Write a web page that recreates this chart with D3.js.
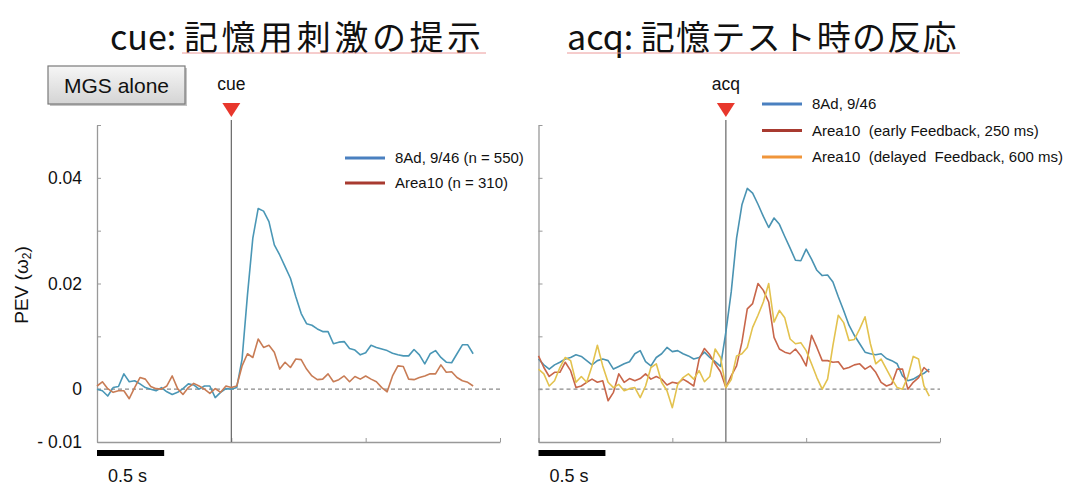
<!DOCTYPE html>
<html>
<head>
<meta charset="utf-8">
<script src="https://cdn.jsdelivr.net/npm/d3@7"></script>
<style>
  body { margin: 0; background: #fff; }
  svg { display: block; }
  text { font-family: "Liberation Sans", Arial, sans-serif; }
</style>
</head>
<body>
<div id="chart"></div>
<script>
// PEV values in units of 1e-3, sampled every 0.04 s from the left end of each panel
const STEP = 0.04;

const cueBlue = [0, -0.3, -1.3, 0.3, 0.5, 2.9, 1.4, 1.6, 1.0, 0.3, 0, -0.3, 0.3, -0.5, -1.0, -0.6, 0.1, 1.0, 0.8, 0,
  0.6, 0.6, -1.6, -0.6, 0.1, 0, 0.3, 5.7, 17.8, 28.6, 34.2, 33.7, 31.7, 27.3, 25.4, 23.2, 21.0,
  17.5, 14.3, 12.4, 12.1, 11.4, 10.9, 10.9, 8.6, 8.9, 9.0, 7.7, 7.4, 6.5, 6.9, 8.3, 7.9, 7.6, 7.3, 6.8, 6.5,
  6.3, 6.3, 7.5, 6.5, 4.8, 6.7, 7.3, 6.0, 5.1, 5.0, 6.7, 8.4, 8.4, 6.7];
const cueRed = [0.6, 1.4, 0.1, -0.6, -0.3, -0.3, -1.8, 0.3, 2.2, 1.9, 0.5, 0.1, 0, 0.6, 2.5, 0.1, -1.0, 0.3, 1.1, 0.6,
  0, -0.8, 0.1, -0.6, 0.6, 0.3, 0.6, 4.4, 6.7, 6.0, 9.5, 7.9, 8.3, 7.0, 3.8, 5.1, 4.1,
  5.7, 5.6, 3.8, 2.5, 1.8, 1.9, 2.9, 1.4, 1.8, 2.5, 1.4, 2.4, 1.9, 2.5, 1.9, 1.4, 0.3, -0.5, 2.5, 4.4,
  4.3, 1.9, 1.8, 2.2, 2.5, 2.9, 2.9, 4.6, 3.2, 3.3, 2.2, 1.6, 1.3, 0.6];

const acqBlue = [5.7, 4.6, 3.8, 4.6, 5.1, 5.7, 6.0, 6.5, 6.2, 5.4, 4.6, 5.4, 5.7, 5.4, 3.8, 4.3, 4.8, 5.2, 6.7, 7.3,
  5.2, 4.4, 6.0, 6.7, 7.9, 7.1, 7.3, 6.7, 6.3, 5.7, 6.0, 7.0, 6.0, 5.2, 4.3, 10.8, 18.4,
  28.6, 34.9, 38.0, 37.1, 35.0, 32.7, 30.6, 32.4, 31.2, 28.9, 26.7, 24.4, 24.3, 26.5, 24.6, 22.5, 21.5, 21.6, 20.3, 17.5,
  14.9, 12.1, 10.2, 8.6, 7.0, 6.7, 6.5, 6.7, 5.8, 5.4, 4.8, 2.5, 1.6, 1.9, 2.5, 3.0, 3.8];
const acqEarly = [6.3, 4.1, 2.4, 3.2, 3.2, 5.1, 3.5, 0.3, 0.6, 1.3, 1.9, 1.3, 1.6, -2.2, -0.6, 2.9, 1.3, 2.0, 1.6, 2.0,
  2.9, 1.9, 2.4, 1.9, 0.8, 1.3, 1.1, 1.9, 1.3, 0.6, 5.7, 7.7, 6.5, 4.8, 3.3, 0.3, 2.5,
  4.4, 8.9, 15.2, 16.2, 20.0, 18.7, 16.5, 9.8, 7.6, 7.0, 6.7, 7.6, 6.3, 4.4, 10.2, 7.9, 5.4, 5.4, 5.1, 5.2,
  3.8, 4.1, 4.6, 4.8, 3.8, 4.4, 3.2, 1.3, 0.6, 1.0, 3.8, 3.8, 0, 1.3, 2.2, 4.1, 3.2];
const acqDelayed = [3.8, 2.9, 0.6, 1.6, 4.1, 6.0, 5.4, 1.3, 2.4, 1.3, 4.4, 8.3, 4.4, 1.3, 0.3, 0.9, -0.3, 0.1, 0.3, -1.6,
  0.6, 4.1, 4.8, 1.3, -0.3, -3.5, 0.9, 2.2, 2.9, 1.9, 3.5, 1.4, 2.4, 7.6, 6.0, 0.3, 1.8,
  6.3, 6.7, 7.9, 11.7, 14.0, 16.5, 20.0, 12.7, 14.9, 13.5, 9.5, 8.6, 8.8, 7.3, 4.8, 2.2, 0, 1.9, 8.3, 14.0,
  12.6, 9.2, 9.4, 11.4, 13.7, 8.6, 4.8, 5.7, 3.8, 1.9, 0.3, 0, 2.4, 6.2, 5.7, 0.6, -1.3];

const yTicks = [-10, 0, 10, 20, 30, 40, 50];
const yTickLabels = { "-10": "- 0.01", "0": "0", "20": "0.02", "40": "0.04" };
const xTicks = [0, 1, 2, 3];

const cueLegend = ["8Ad, 9/46 (n = 550)", "Area10 (n = 310)"];
const acqLegend = ["8Ad, 9/46", "Area10  (early Feedback, 250 ms)", "Area10  (delayed  Feedback, 600 ms)"];

const W = 1066, H = 486;
const svg = d3.select("#chart").append("svg")
  .attr("width", W).attr("height", H);
svg.append("rect").attr("width", W).attr("height", H).attr("fill", "#fff");

const y = d3.scaleLinear().domain([-10, 50]).range([442, 125]);

function panel(x0, x1, eventT, eventLabel, series, legend, legendPos, showLabels) {
  const x = d3.scaleLinear().domain([0, 3]).range([x0, x1]);
  const g = svg.append("g");

  // zero line
  g.append("line")
    .attr("x1", x(0)).attr("x2", x(3))
    .attr("y1", y(0)).attr("y2", y(0))
    .attr("stroke", "#8a8a8a").attr("stroke-width", 1.2)
    .attr("stroke-dasharray", "4,3");

  const yAxis = d3.axisLeft(y).tickValues(yTicks)
    .tickSizeInner(-4).tickSizeOuter(0).tickPadding(15)
    .tickFormat(d => showLabels ? (yTickLabels[d] || "") : "");
  const ya = g.append("g").attr("transform", `translate(${x(0)},0)`).call(yAxis);
  ya.select(".domain").attr("stroke", "#999").attr("stroke-width", 1.3);
  ya.selectAll(".tick line").attr("stroke", "#999");
  ya.selectAll("text").attr("font-size", 17.5).attr("fill", "#111")
    .style("font-family", "Liberation Sans, Arial, sans-serif");

  const xAxis = d3.axisBottom(x).tickValues(xTicks)
    .tickSizeInner(-4).tickSizeOuter(0).tickFormat("");
  const xa = g.append("g").attr("transform", `translate(0,${y(-10)})`).call(xAxis);
  xa.select(".domain").attr("stroke", "#999").attr("stroke-width", 1.3);
  xa.selectAll(".tick line").attr("stroke", "#999");

  // event marker
  g.append("line")
    .attr("x1", x(eventT)).attr("x2", x(eventT))
    .attr("y1", 120).attr("y2", y(-10))
    .attr("stroke", "#666").attr("stroke-width", 1.2);
  const tx = x(eventT);
  g.append("path")
    .attr("d", `M${tx - 9},103 L${tx + 9},103 L${tx},117 Z`)
    .attr("fill", "#e8372c");
  g.append("text").attr("x", tx).attr("y", 90)
    .attr("text-anchor", "middle").attr("font-size", 17.5).attr("fill", "#111")
    .text(eventLabel);

  const line = d3.line().x((d, i) => x(i * STEP)).y(d => y(d));
  series.forEach(s => {
    g.append("path").datum(s.values)
      .attr("d", line)
      .attr("fill", "none")
      .attr("stroke", s.color)
      .attr("stroke-width", 1.6)
      .attr("stroke-linejoin", "round");
  });

  // legend
  legend.forEach((label, i) => {
    const ly = legendPos.y + i * legendPos.dy;
    g.append("line")
      .attr("x1", legendPos.x).attr("x2", legendPos.x + 40)
      .attr("y1", ly).attr("y2", ly)
      .attr("stroke", series[i].legendColor).attr("stroke-width", 3);
    g.append("text")
      .attr("x", legendPos.x + 50).attr("y", ly + 5)
      .attr("font-size", 15).attr("fill", "#111")
      .attr("xml:space", "preserve").style("white-space", "pre")
      .text(label);
  });

  // scale bar 0.5 s
  g.append("rect")
    .attr("x", x(0)).attr("y", 450)
    .attr("width", x(0.5) - x(0)).attr("height", 6)
    .attr("fill", "#000");
  g.append("text").attr("x", x(0) + 11).attr("y", 482)
    .attr("font-size", 18).attr("fill", "#111").text("0.5 s");
}

panel(97, 500, 1.0, "cue", [
  { values: cueBlue, color: "#4a97b6", legendColor: "#4a80c0" },
  { values: cueRed, color: "#c87c55", legendColor: "#a83a30" }
], cueLegend, { x: 345, y: 158, dy: 25 }, true);

panel(538.5, 940, 1.4, "acq", [
  { values: acqBlue, color: "#4a93b2", legendColor: "#4a80c0" },
  { values: acqEarly, color: "#c8664a", legendColor: "#a83a30" },
  { values: acqDelayed, color: "#e3c24e", legendColor: "#f0953a" }
], acqLegend, { x: 762, y: 104, dy: 26.5 }, false);

// y axis title
svg.append("text")
  .attr("transform", "translate(28,285) rotate(-90)")
  .attr("text-anchor", "middle").attr("font-size", 19).attr("fill", "#111")
  .call(t => {
    t.append("tspan").text("PEV (ω");
    t.append("tspan").attr("font-size", 12).attr("dy", 3).text("2");
    t.append("tspan").attr("dy", -3).text(")");
  });

// titles: latin prefix + japanese part
const titleFont = "'Noto Sans CJK JP', sans-serif";
function title(x, prefix, jp, spacing) {
  const t = svg.append("text").attr("x", x).attr("y", 50)
    .attr("font-size", 34).attr("fill", "#111").style("font-family", titleFont)
    .attr("xml:space", "preserve").style("white-space", "pre");
  t.append("tspan").text(prefix);
  t.append("tspan").attr("letter-spacing", spacing).text(jp);
}
title(110, "cue: ", "記憶用刺激の提示", 3.6);
title(567, "acq: ", "記憶テスト時の反応", 1.2);
// spell-check underlines
svg.append("line").attr("x1", 182).attr("x2", 486).attr("y1", 53).attr("y2", 53)
  .attr("stroke", "#ec9a9a").attr("stroke-width", 1);
svg.append("line").attr("x1", 567).attr("x2", 960).attr("y1", 53).attr("y2", 53)
  .attr("stroke", "#ec9a9a").attr("stroke-width", 1);

// MGS alone button
const defs = svg.append("defs");
const grad = defs.append("linearGradient").attr("id", "btn").attr("x1", 0).attr("x2", 0).attr("y1", 0).attr("y2", 1);
grad.append("stop").attr("offset", "0%").attr("stop-color", "#f6f6f6");
grad.append("stop").attr("offset", "100%").attr("stop-color", "#d4d4d4");
svg.append("rect").attr("x", 50).attr("y", 68).attr("width", 137).attr("height", 38)
  .attr("fill", "#c4c4c4");
svg.append("rect").attr("x", 48).attr("y", 66).attr("width", 137).attr("height", 38)
  .attr("fill", "url(#btn)").attr("stroke", "#7a7a7a").attr("stroke-width", 1.2);
svg.append("text").attr("x", 116.5).attr("y", 93)
  .attr("text-anchor", "middle").attr("font-size", 21).attr("fill", "#111")
  .text("MGS alone");
</script>
</body>
</html>
